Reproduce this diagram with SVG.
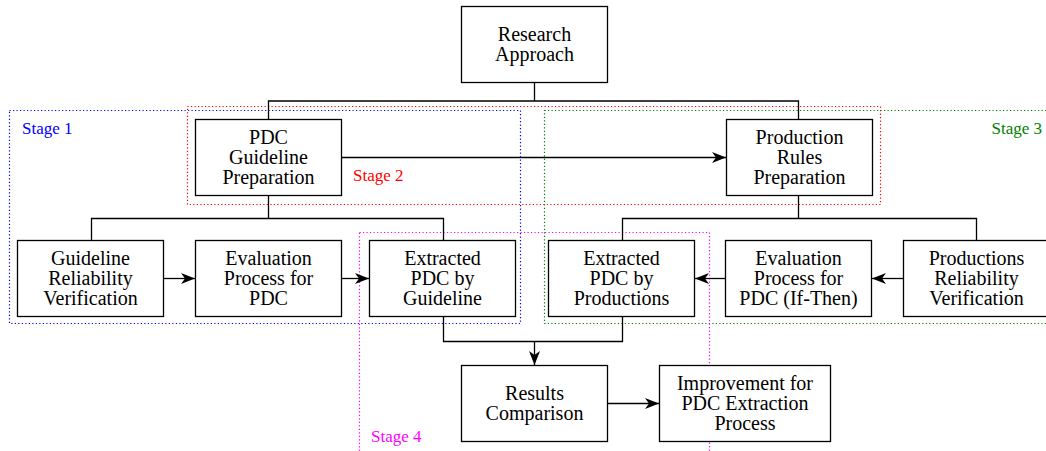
<svg xmlns="http://www.w3.org/2000/svg" width="1046" height="451" viewBox="0 0 1046 451">
<style>
.box{fill:#fff;stroke:#000;stroke-width:1.3}
.t{font-family:"Liberation Serif","Times New Roman",serif;font-size:20px;text-anchor:middle;fill:#000}
.lbl{font-family:"Liberation Serif","Times New Roman",serif;font-size:17px}
.c{fill:none;stroke:#000;stroke-width:1.3}
.st{fill:none;stroke-width:1.2;stroke-dasharray:1.2,2.3}
</style>
<defs>
<marker id="ah" markerUnits="userSpaceOnUse" markerWidth="16" markerHeight="12" refX="14" refY="6" orient="auto">
<path d="M0,0.5 L14,6 L0,11.5 L4,6 Z" fill="#000"/>
</marker>
</defs>
<rect width="1046" height="451" fill="#fff"/>
<g id="stages">
<rect class="st" x="187.5" y="106.5" width="693" height="98" stroke="#ff0000"/>
<rect class="st" x="9.5" y="110.5" width="511" height="213" stroke="#0000ff"/>
<rect class="st" x="544.5" y="110.5" width="510" height="213" stroke="#008000"/>
<rect class="st" x="359.5" y="232.5" width="350" height="230" stroke="#ff00ff"/>
<text class="lbl" x="22" y="134" fill="#0000ff">Stage 1</text>
<text class="lbl" x="353" y="181" fill="#ff0000">Stage 2</text>
<text class="lbl" x="1042" y="134" fill="#008000" text-anchor="end">Stage 3</text>
<text class="lbl" x="371" y="442" fill="#ff00ff">Stage 4</text>
</g>
<g id="connectors">
<path class="c" d="M534.5,82 V101 M268.5,119 V101 H798.5 V119"/>
<path class="c" d="M342,157.5 H726" marker-end="url(#ah)"/>
<path class="c" d="M268.5,195 V218.5 M91.5,240 V218.5 H443.5 V240"/>
<path class="c" d="M798.5,195 V218.5 M622.5,240 V218.5 H976.5 V240"/>
<path class="c" d="M164,278.5 H195" marker-end="url(#ah)"/>
<path class="c" d="M342,278.5 H369" marker-end="url(#ah)"/>
<path class="c" d="M725,278.5 H695" marker-end="url(#ah)"/>
<path class="c" d="M903,278.5 H872" marker-end="url(#ah)"/>
<path class="c" d="M443.5,317 V341.5 H622.5 V317"/>
<path class="c" d="M534.5,341.5 V365" marker-end="url(#ah)"/>
<path class="c" d="M607,403.5 H659" marker-end="url(#ah)"/>
</g>
<g id="research-approach">
<rect class="box" x="461.5" y="6.5" width="146" height="76"/>
<text class="t" x="534.5" y="41">Research</text>
<text class="t" x="534.5" y="61">Approach</text>
</g>
<g id="pdc-guideline-preparation">
<rect class="box" x="195.5" y="119.5" width="146" height="76"/>
<text class="t" x="268.5" y="144">PDC</text>
<text class="t" x="268.5" y="164">Guideline</text>
<text class="t" x="268.5" y="184">Preparation</text>
</g>
<g id="production-rules-preparation">
<rect class="box" x="726.5" y="119.5" width="146" height="76"/>
<text class="t" x="799.5" y="144">Production</text>
<text class="t" x="799.5" y="164">Rules</text>
<text class="t" x="799.5" y="184">Preparation</text>
</g>
<g id="guideline-reliability-verification">
<rect class="box" x="17.5" y="240.5" width="146" height="76"/>
<text class="t" x="90.5" y="265">Guideline</text>
<text class="t" x="90.5" y="285">Reliability</text>
<text class="t" x="90.5" y="305">Verification</text>
</g>
<g id="evaluation-process-pdc">
<rect class="box" x="195.5" y="240.5" width="146" height="76"/>
<text class="t" x="268.5" y="265">Evaluation</text>
<text class="t" x="268.5" y="285">Process for</text>
<text class="t" x="268.5" y="305">PDC</text>
</g>
<g id="extracted-pdc-guideline">
<rect class="box" x="369.5" y="240.5" width="146" height="76"/>
<text class="t" x="442.5" y="265">Extracted</text>
<text class="t" x="442.5" y="285">PDC by</text>
<text class="t" x="442.5" y="305">Guideline</text>
</g>
<g id="extracted-pdc-productions">
<rect class="box" x="548.5" y="240.5" width="146" height="76"/>
<text class="t" x="621.5" y="265">Extracted</text>
<text class="t" x="621.5" y="285">PDC by</text>
<text class="t" x="621.5" y="305">Productions</text>
</g>
<g id="evaluation-process-ifthen">
<rect class="box" x="725.5" y="240.5" width="146" height="76"/>
<text class="t" x="798.5" y="265">Evaluation</text>
<text class="t" x="798.5" y="285">Process for</text>
<text class="t" x="798.5" y="305">PDC (If-Then)</text>
</g>
<g id="productions-reliability-verification">
<rect class="box" x="903.5" y="240.5" width="146" height="76"/>
<text class="t" x="976.5" y="265">Productions</text>
<text class="t" x="976.5" y="285">Reliability</text>
<text class="t" x="976.5" y="305">Verification</text>
</g>
<g id="results-comparison">
<rect class="box" x="461.5" y="365.5" width="146" height="76"/>
<text class="t" x="534.5" y="400">Results</text>
<text class="t" x="534.5" y="420">Comparison</text>
</g>
<g id="improvement">
<rect class="box" x="659.5" y="365.5" width="171" height="76"/>
<text class="t" x="745" y="390">Improvement for</text>
<text class="t" x="745" y="410">PDC Extraction</text>
<text class="t" x="745" y="430">Process</text>
</g>
</svg>
